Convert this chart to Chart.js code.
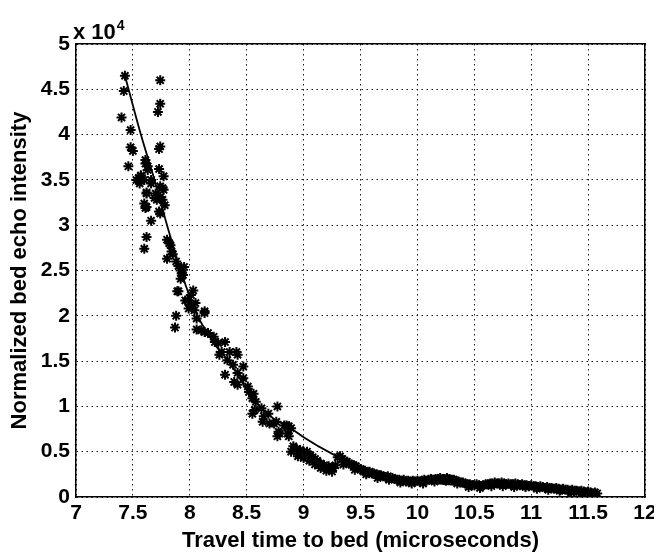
<!DOCTYPE html>
<html>
<head>
<meta charset="utf-8">
<script src="https://cdn.jsdelivr.net/npm/chart.js@4/dist/chart.umd.min.js"></script>
<style>
  html, body { margin: 0; padding: 0; background: #ffffff; }
  #wrap { width: 654px; height: 554px; }
</style>
</head>
<body>
<div id="wrap"><canvas id="c" width="654" height="554"></canvas></div>
<script>
// ---- Data ----
// Travel time to bed (microseconds) and normalized bed echo intensity (in units of 10^4)
const travelTime = [
  7.43, 7.42, 7.40, 7.48, 7.48, 7.50, 7.46,
  7.74, 7.74, 7.72, 7.74, 7.73,
  7.61, 7.63, 7.55, 7.57, 7.60, 7.66, 7.56, 7.62, 7.60, 7.62, 7.66, 7.62, 7.60,
  7.53, 7.57, 7.63, 7.61, 7.66, 7.62, 7.61,
  7.73, 7.77, 7.74, 7.76, 7.70, 7.74, 7.76, 7.69, 7.78, 7.73, 7.74, 7.71, 7.77,
  7.83, 7.84, 7.80, 7.80, 7.82, 7.85, 7.88, 7.90,
  7.95, 7.92, 7.93, 7.92, 7.94, 7.89, 7.90,
  8.03, 8.01, 7.96, 7.98, 8.01, 8.05, 7.99, 8.04, 8.13, 8.13, 8.06, 7.88, 7.87,
  8.06, 8.10, 8.13, 8.16, 8.21, 8.22, 8.25, 8.31, 8.28, 8.35, 8.41, 8.26, 8.33,
  8.42, 8.38, 8.47, 8.31, 8.42, 8.39, 8.42, 8.47, 8.51, 8.52, 8.55, 8.56, 8.58,
  8.55, 8.57, 8.63, 8.69, 8.77, 8.64, 8.65, 8.70, 8.74, 8.76, 8.83, 8.85, 8.89,
  8.87, 8.79, 8.78, 8.86, 8.87, 8.77, 8.91, 8.94, 8.97, 9.00, 9.03, 9.06, 9.08,
  9.10, 9.12, 9.15, 9.18, 9.20, 9.22, 9.24, 9.26, 9.28,
  8.89, 8.95, 9.00, 9.05, 9.10, 9.15, 9.20, 9.25,
  9.30, 9.32, 9.34, 9.36, 9.38, 9.40, 9.42, 9.44, 9.46, 9.48,
  9.50, 9.52, 9.54, 9.56, 9.58, 9.60, 9.62, 9.64, 9.66, 9.68,
  9.70, 9.72, 9.74, 9.76, 9.78, 9.80, 9.82, 9.84, 9.86, 9.88,
  9.90, 9.92, 9.94, 9.96, 9.98, 10.00, 10.02, 10.04, 10.06, 10.08,
  10.10, 10.12, 10.14, 10.16, 10.18, 10.20, 10.22, 10.24, 10.26, 10.28,
  10.30, 10.32, 10.34, 10.36, 10.38, 10.40, 10.42, 10.44, 10.46, 10.48,
  10.50, 10.52, 10.54, 10.56, 10.58, 10.60, 10.62, 10.64, 10.66, 10.68,
  10.70, 10.72, 10.74, 10.76, 10.78, 10.80, 10.82, 10.84, 10.86, 10.88,
  10.90, 10.92, 10.94, 10.96, 10.98, 11.00, 11.02, 11.04, 11.06, 11.08,
  11.10, 11.12, 11.14, 11.16, 11.18, 11.20, 11.22, 11.24, 11.26, 11.28,
  11.30, 11.32, 11.34, 11.36, 11.38, 11.40, 11.42, 11.44, 11.46, 11.48,
  11.50, 11.52, 11.54, 11.56, 11.58,
  9.35, 9.45, 9.55, 9.65, 9.75, 9.85, 9.95, 10.05, 10.15, 10.25,
  10.35, 10.45, 10.55, 10.65, 10.75, 10.85, 10.95, 11.05, 11.15, 11.25,
  11.35, 11.45, 11.55
];
const echoIntensity = [
  4.65, 4.48, 4.19, 4.05, 3.86, 3.82, 3.65,
  4.60, 4.34, 4.25, 3.87, 3.84,
  3.68, 3.61, 3.52, 3.54, 3.50, 3.46, 3.46, 3.36, 3.24, 3.20, 3.05, 2.87, 2.74,
  3.50, 3.55, 3.65, 3.72, 3.50, 3.35, 3.19,
  3.62, 3.54, 3.43, 3.41, 3.35, 3.31, 3.28, 3.30, 3.22, 3.15, 3.13, 3.28, 3.39,
  2.78, 2.71, 2.63, 2.84, 2.80, 2.68, 2.60, 2.55,
  2.54, 2.50, 2.47, 2.41, 2.45, 2.27, 2.27,
  2.28, 2.23, 2.17, 2.17, 2.12, 2.14, 2.08, 2.06, 2.03, 2.05, 1.97, 2.00, 1.87,
  1.85, 1.84, 1.82, 1.81, 1.77, 1.71, 1.70, 1.71, 1.60, 1.60, 1.60, 1.57, 1.51,
  1.57, 1.46, 1.44, 1.35, 1.37, 1.27, 1.24, 1.31, 1.22, 1.16, 1.09, 1.14, 1.05,
  0.92, 0.96, 0.98, 0.92, 1.00, 0.83, 0.89, 0.81, 0.81, 0.83, 0.79, 0.79, 0.76,
  0.78, 0.70, 0.72, 0.70, 0.67, 0.67, 0.56, 0.53, 0.52, 0.50, 0.50, 0.46, 0.44,
  0.42, 0.40, 0.37, 0.35, 0.33, 0.34, 0.32, 0.32, 0.35,
  0.50, 0.45, 0.43, 0.40, 0.36, 0.32, 0.29, 0.28,
  0.44, 0.45, 0.42, 0.40, 0.39, 0.37, 0.36, 0.35, 0.34, 0.32,
  0.31, 0.29, 0.29, 0.27, 0.28, 0.26, 0.26, 0.25, 0.24, 0.24,
  0.23, 0.22, 0.23, 0.21, 0.21, 0.20, 0.19, 0.19, 0.18, 0.19,
  0.17, 0.18, 0.17, 0.18, 0.17, 0.18, 0.17, 0.18, 0.19, 0.18,
  0.19, 0.20, 0.19, 0.20, 0.20, 0.21, 0.20, 0.20, 0.21, 0.20,
  0.19, 0.19, 0.18, 0.17, 0.16, 0.16, 0.15, 0.14, 0.14, 0.13,
  0.13, 0.14, 0.13, 0.12, 0.13, 0.14, 0.14, 0.15, 0.15, 0.16,
  0.15, 0.15, 0.16, 0.15, 0.14, 0.15, 0.14, 0.14, 0.15, 0.14,
  0.13, 0.14, 0.13, 0.13, 0.12, 0.13, 0.12, 0.12, 0.11, 0.12,
  0.11, 0.10, 0.11, 0.10, 0.10, 0.09, 0.10, 0.09, 0.08, 0.09,
  0.08, 0.08, 0.07, 0.08, 0.07, 0.07, 0.06, 0.07, 0.06, 0.05,
  0.06, 0.05, 0.04, 0.05, 0.04,
  0.36, 0.30, 0.25, 0.21, 0.19, 0.16, 0.15, 0.15, 0.17, 0.18,
  0.15, 0.11, 0.10, 0.12, 0.12, 0.11, 0.11, 0.09, 0.08, 0.07,
  0.05, 0.04, 0.03
];
// Fitted curve
const fitTime = [7.43, 7.57, 7.69, 7.80, 7.92, 8.05, 8.20, 8.37, 8.54, 8.71, 8.91, 9.00, 9.26, 9.50, 9.75, 10.00, 10.50, 11.00, 11.55];
const fitIntensity = [4.65, 4.00, 3.50, 3.00, 2.50, 2.05, 1.72, 1.45, 1.11, 0.89, 0.74, 0.66, 0.47, 0.33, 0.21, 0.17, 0.12, 0.09, 0.04];

const xTicks = [7, 7.5, 8, 8.5, 9, 9.5, 10, 10.5, 11, 11.5, 12];
const yTicks = [0, 0.5, 1, 1.5, 2, 2.5, 3, 3.5, 4, 4.5, 5];

const FONT = '"Liberation Sans", Arial, Helvetica, sans-serif';

const scatterPts = travelTime.map((x, i) => ({ x: x, y: echoIntensity[i] }));
const fitPts = fitTime.map((x, i) => ({ x: x, y: fitIntensity[i] }));

const exponentLabel = {
  id: 'exponentLabel',
  afterDraw(chart) {
    const ctx = chart.ctx;
    const a = chart.chartArea;
    ctx.save();
    ctx.fillStyle = '#000';
    ctx.textBaseline = 'alphabetic';
    ctx.textAlign = 'left';
    ctx.font = 'bold 22px ' + FONT;
    const base = 'x 10';
    const x0 = a.left - 3;
    ctx.fillText(base, x0, a.top - 5);
    const w = ctx.measureText(base).width;
    ctx.font = 'bold 14px ' + FONT;
    ctx.fillText('4', x0 + w + 1, a.top - 14);
    ctx.restore();
  }
};

const noSidePadding = (s) => { s.paddingLeft = 0; s.paddingRight = 0; };

new Chart(document.getElementById('c'), {
  data: {
    datasets: [
      {
        type: 'scatter',
        label: 'Data',
        data: scatterPts,
        pointStyle: 'star',
        pointRadius: 5,
        pointBorderWidth: 2,
        borderColor: '#000000',
        backgroundColor: '#000000',
        pointHoverRadius: 5
      },
      {
        type: 'line',
        label: 'Fit',
        data: fitPts,
        borderColor: '#000000',
        borderWidth: 1.8,
        pointRadius: 0,
        fill: false,
        cubicInterpolationMode: 'monotone'
      }
    ]
  },
  options: {
    responsive: false,
    animation: false,
    devicePixelRatio: 1,
    layout: { padding: { left: 0, right: 9, top: 44, bottom: 0 } },
    plugins: {
      legend: { display: false },
      tooltip: { enabled: false },
      title: { display: false }
    },
    scales: {
      x: {
        type: 'linear',
        position: 'bottom',
        min: 7,
        max: 12,
        afterBuildTicks: (s) => { s.ticks = xTicks.map(v => ({ value: v })); },
        grid: { color: '#1a1a1a', lineWidth: 1, drawTicks: false },
        border: { display: true, color: '#000000', width: 1.5, dash: [1.5, 3.5] },
        ticks: {
          color: '#000000',
          padding: 4,
          font: { family: FONT, size: 21, weight: 'bold' },
          callback: (v) => String(v),
          maxRotation: 0,
          autoSkip: false
        },
        title: {
          display: true,
          text: 'Travel time to bed (microseconds)',
          color: '#000000',
          font: { family: FONT, size: 22, weight: 'bold' },
          padding: { top: 0, bottom: 0 }
        },
        afterFit: (s) => { s.height = 57; s.paddingLeft = 0; s.paddingRight = 0; }
      },
      y: {
        type: 'linear',
        position: 'left',
        min: 0,
        max: 5,
        afterBuildTicks: (s) => { s.ticks = yTicks.map(v => ({ value: v })); },
        grid: { color: '#1a1a1a', lineWidth: 1, drawTicks: false },
        border: { display: true, color: '#000000', width: 1.5, dash: [1.5, 3.5] },
        ticks: {
          color: '#000000',
          padding: 6,
          font: { family: FONT, size: 21, weight: 'bold' },
          callback: (v) => String(v),
          autoSkip: false
        },
        title: {
          display: true,
          text: 'Normalized bed echo intensity',
          color: '#000000',
          font: { family: FONT, size: 22, weight: 'bold' },
          padding: { top: 7, bottom: 0 }
        },
        afterFit: (s) => { s.width = 76; }
      },
      xTop: {
        type: 'linear',
        position: 'top',
        min: 7,
        max: 12,
        grid: { display: false, drawTicks: false },
        ticks: { display: false },
        border: { display: true, color: '#000000', width: 1.5 },
        afterFit: (s) => { s.height = 0; noSidePadding(s); }
      },
      yRight: {
        type: 'linear',
        position: 'right',
        min: 0,
        max: 5,
        grid: { display: false, drawTicks: false },
        ticks: { display: false },
        border: { display: true, color: '#000000', width: 1.5 },
        afterFit: (s) => { s.width = 0; }
      }
    }
  },
  plugins: [exponentLabel]
});
</script>
</body>
</html>
